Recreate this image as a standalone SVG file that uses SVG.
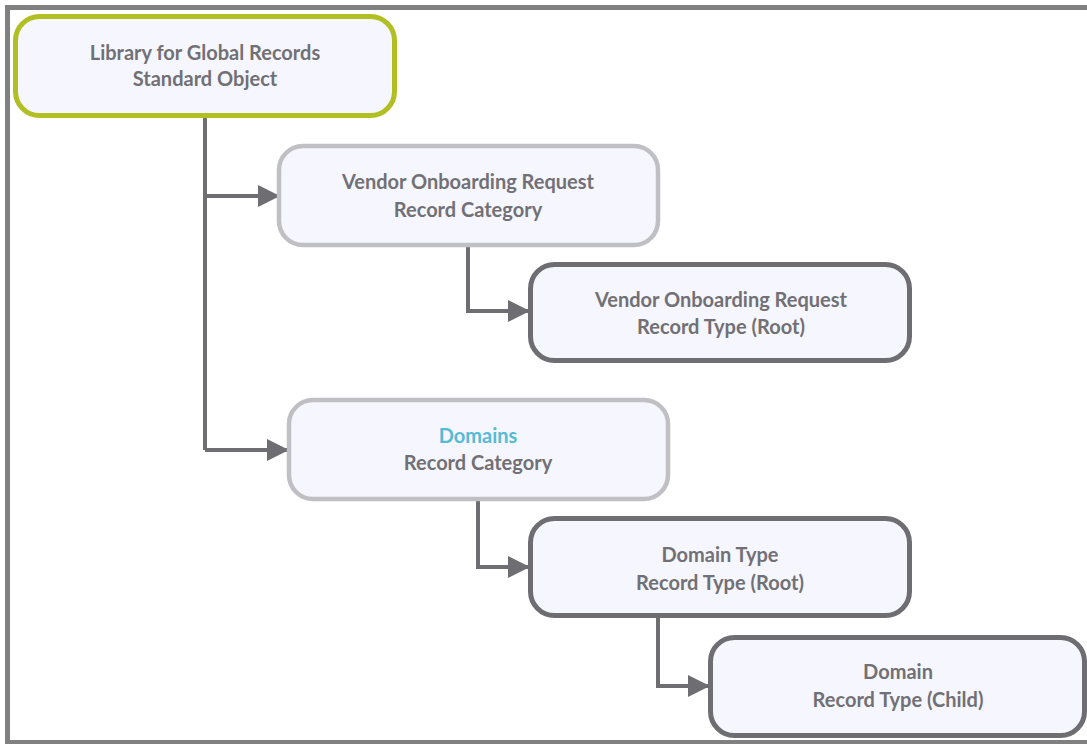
<svg xmlns="http://www.w3.org/2000/svg" width="1087" height="744" viewBox="0 0 1087 744">
  <defs>
    <marker id="arrow" viewBox="0 0 22 22" refX="21" refY="11" markerWidth="22" markerHeight="22" markerUnits="userSpaceOnUse" orient="auto">
      <path d="M0,0 L22,11 L0,22 Z" fill="#6e6d72"/>
    </marker>
    <style>
      .frame { fill: none; stroke: #808080; stroke-width: 5; }
      .box { fill: #f6f6fe; }
      .root { stroke: #b2bf22; stroke-width: 5; }
      .cat { stroke: #c0bfc4; stroke-width: 4.5; }
      .type { stroke: #6e6d72; stroke-width: 5; }
      .label { font-family: Lato, "Liberation Sans", sans-serif; font-weight: 700; font-size: 20px; fill: #717075; text-anchor: middle; }
      .accent { fill: #55bbd5; }
      .conn { fill: none; stroke: #6e6d72; stroke-width: 4; stroke-linejoin: miter; }
    </style>
  </defs>

  <rect width="1087" height="744" fill="#ffffff"/>
  <!-- outer frame (right side runs off the canvas) -->
  <rect class="frame" x="7.5" y="7.5" width="1100" height="735"/>

  <g id="connectors">
    <path class="conn" d="M205,116 V450"/>
    <path class="conn" d="M205,196 H279" marker-end="url(#arrow)"/>
    <path class="conn" d="M205,450 H288" marker-end="url(#arrow)"/>
    <path class="conn" d="M468,246 V311 H529" marker-end="url(#arrow)"/>
    <path class="conn" d="M478,500 V567 H529" marker-end="url(#arrow)"/>
    <path class="conn" d="M658,617 V686 H709" marker-end="url(#arrow)"/>
  </g>

  <g id="node-library">
    <rect class="box root" x="15.5" y="16.5" width="379" height="99" rx="24"/>
    <text class="label" x="205" y="60">Library for Global Records</text>
    <text class="label" x="205" y="86">Standard Object</text>
  </g>

  <g id="node-vendor-category">
    <rect class="box cat" x="279" y="146" width="379" height="99" rx="24"/>
    <text class="label" x="468" y="189">Vendor Onboarding Request</text>
    <text class="label" x="468" y="217">Record Category</text>
  </g>

  <g id="node-vendor-type">
    <rect class="box type" x="530.5" y="264.5" width="379" height="96" rx="24"/>
    <text class="label" x="721" y="307">Vendor Onboarding Request</text>
    <text class="label" x="721" y="334">Record Type (Root)</text>
  </g>

  <g id="node-domains-category">
    <rect class="box cat" x="289" y="400" width="379" height="99" rx="24"/>
    <text class="label accent" x="478" y="443">Domains</text>
    <text class="label" x="478" y="470">Record Category</text>
  </g>

  <g id="node-domain-type">
    <rect class="box type" x="530.5" y="518.5" width="379" height="97" rx="24"/>
    <text class="label" x="720" y="562">Domain Type</text>
    <text class="label" x="720" y="590">Record Type (Root)</text>
  </g>

  <g id="node-domain-child">
    <rect class="box type" x="710.5" y="637.5" width="374" height="98" rx="24"/>
    <text class="label" x="898" y="679">Domain</text>
    <text class="label" x="898" y="707">Record Type (Child)</text>
  </g>
</svg>
